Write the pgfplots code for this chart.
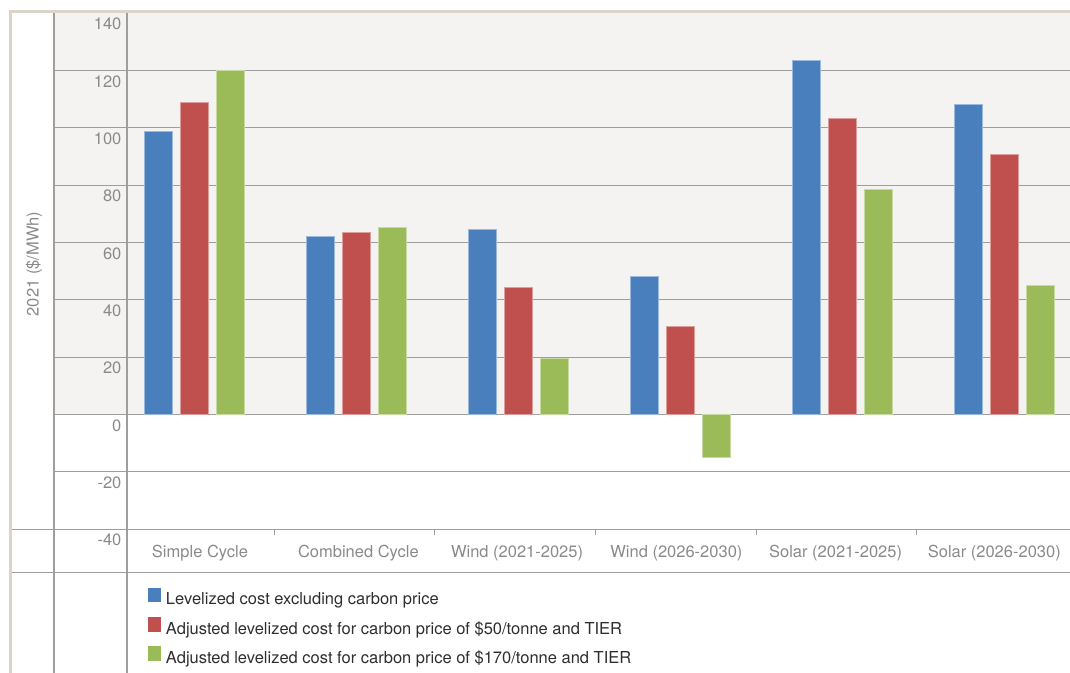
\documentclass[border=0pt]{standalone}
\usepackage{pgfplots}
\pgfplotsset{compat=1.18}
\usepackage{fontspec}
\setmainfont{TeX Gyre Heros}
\definecolor{bgc}{HTML}{F4F3F1}
\definecolor{gridc}{HTML}{9E9E9E}
\definecolor{beigec}{HTML}{DCD3CB}
\definecolor{tickc}{HTML}{8A8A8A}
\definecolor{legc}{HTML}{2E2E2E}
\definecolor{cA}{HTML}{4A7FBE}
\definecolor{cB}{HTML}{C0504D}
\definecolor{cC}{HTML}{9BBB59}
\newcommand\chartfont{\fontsize{8.25}{10}\selectfont}
\pgfplotsset{sq legend/.style={legend image code/.code={\fill[##1,draw=none] (0pt,-0.85pt) rectangle (6.5pt,6.35pt);}}}
\begin{document}
\begin{tikzpicture}
\path[use as bounding box] (0,0) rectangle (535pt,-336.5pt);
\begin{scope}[x=0.5pt,y=-0.5pt]
\fill[bgc] (54,12) rectangle (1070,414.5);
\end{scope}
\begin{axis}[
  scale only axis,
  width=508pt, height=257.9pt,
  at={(27pt,-264.55pt)}, anchor=south west,
  xmin=-0.8655, xmax=5.402, ymin=-40, ymax=140,
  axis line style={draw=none},
  major tick length=0pt,
  tick pos=left,
  ytick={-20,0,20,40,60,80,100,120},
  yticklabels={-20,0,20,40,60,80,100,120},
  extra y ticks={-40,140},
  extra y tick labels={-40,140},
  extra y tick style={grid=none},
  ymajorgrids,
  grid style={color=gridc, line width=0.55pt},
  yticklabel style={font=\chartfont, text=tickc, inner sep=0pt, anchor=north east, xshift=33.9pt, yshift=-2.25pt},
  xtick={0.035,1.012,1.991,2.974,3.956,4.935},
  xticklabels={Simple Cycle, Combined Cycle, Wind (2021-2025), Wind (2026-2030), Solar (2021-2025), Solar (2026-2030)},
  xticklabel style={font=\chartfont, text=tickc, inner sep=0pt, anchor=base, yshift=-14pt},
  extra x ticks={0.492,1.480,2.476,3.465,4.455},
  extra x tick labels={},
  extra x tick style={major tick length=3pt, tick align=outside, tick style={color=gridc, line width=0.5pt}, grid=none},
  ylabel={2021 (\$/MWh)},
  ylabel style={at={(rel axis cs:0,0.514)}, anchor=center, yshift=10pt, font=\chartfont, text=tickc},
  ybar, bar width=14pt,
  legend cell align=left,
  legend style={draw=none, fill=none, at={(0.0925,-0.1142)}, anchor=north west, inner sep=0pt, outer sep=0pt,
    row sep=4.3pt, font=\chartfont, text=legc,
    nodes={inner sep=0pt, text height=6pt, text depth=1.8pt},
    /tikz/every odd column/.append style={column sep=2.5pt}},
]
\addplot[fill=cA, draw=cA!55!white, line width=0.5pt, bar shift=-18pt, sq legend] coordinates {
  (0,98.8) (1,62.1) (2,64.6) (3,48.1) (4,123.6) (5,108.2)};
\addplot[fill=cB, draw=cB!55!white, line width=0.5pt, bar shift=0pt, sq legend] coordinates {
  (0,108.7) (1,63.5) (2,44.4) (3,30.6) (4,103.3) (5,90.7)};
\addplot[fill=cC, draw=cC!55!white, line width=0.5pt, bar shift=18pt, sq legend] coordinates {
  (0,120.0) (1,65.3) (2,19.4) (3,-14.9) (4,78.5) (5,45.0)};
\legend{Levelized cost excluding carbon price,
  Adjusted levelized cost for carbon price of \$50/tonne and TIER,
  Adjusted levelized cost for carbon price of \$170/tonne and TIER}
\end{axis}
\begin{scope}[x=0.5pt,y=-0.5pt]
\draw[gridc, line width=0.55pt] (54,12) -- (54,673);
\draw[gridc, line width=0.55pt] (127,12) -- (127,673);
\draw[gridc, line width=0.55pt] (11,529.1) -- (1070,529.1);
\draw[gridc, line width=0.55pt] (11,572.7) -- (1070,572.7);
\draw[beigec, line width=1.5pt] (8.5,11.3) -- (1070,11.3);
\draw[beigec, line width=1.5pt] (10.2,10) -- (10.2,673);
\end{scope}
\end{tikzpicture}
\end{document}
